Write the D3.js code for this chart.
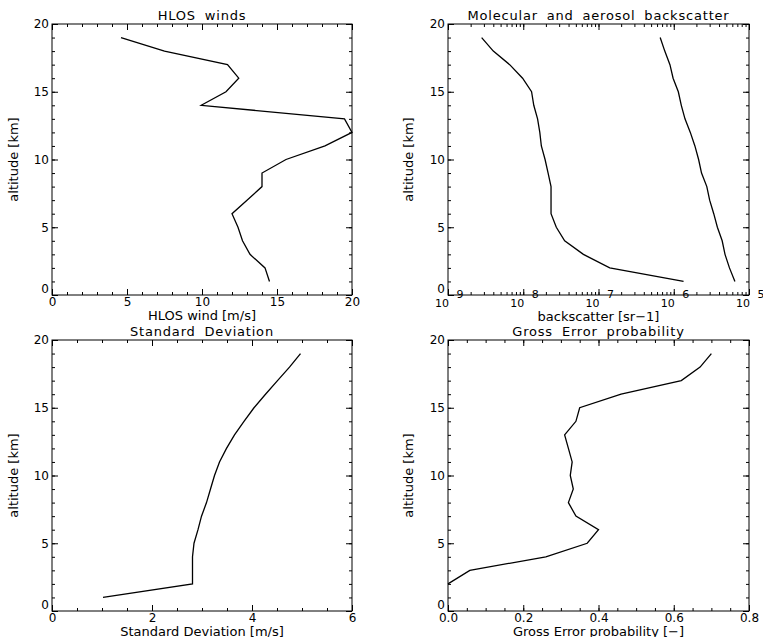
<!DOCTYPE html>
<html>
<head>
<meta charset="utf-8">
<script src="https://cdn.jsdelivr.net/npm/d3@7.9.0/dist/d3.min.js"></script>
<style>
  body { margin: 0; background: #fff; }
  svg text { font-family: "DejaVu Sans", sans-serif; fill: #000; }
  .tick line { stroke: #000; }
  .ptitle { letter-spacing: 0.8px; word-spacing: 4px; }
</style>
</head>
<body>
<svg id="chart" width="763" height="637"></svg>
<script>
// altitude levels (km), shared by all profiles
const altitude = [19, 18, 17, 16, 15, 14, 13, 12, 11, 10, 9, 8, 7, 6, 5, 4, 3, 2, 1];

// HLOS wind [m/s]
const hlosWind = [4.6, 7.5, 11.7, 12.45, 11.6, 9.95, 19.5, 20.0, 18.2, 15.6, 14.0, 14.0, 13.0, 12.0, 12.4, 12.7, 13.2, 14.2, 14.5];

// backscatter [sr-1], two curves
const backscatterA = [2.8e-9, 4.0e-9, 6.6e-9, 9.8e-9, 1.29e-8, 1.38e-8, 1.55e-8, 1.66e-8, 1.74e-8, 1.95e-8, 2.14e-8, 2.34e-8, 2.34e-8, 2.34e-8, 2.75e-8, 3.55e-8, 6.3e-8, 1.41e-7, 1.35e-6];
const backscatterB = [6.6e-7, 7.6e-7, 8.9e-7, 9.8e-7, 1.15e-6, 1.26e-6, 1.41e-6, 1.66e-6, 1.91e-6, 2.14e-6, 2.34e-6, 2.75e-6, 3.0e-6, 3.4e-6, 3.8e-6, 4.4e-6, 4.8e-6, 5.5e-6, 6.5e-6];

// standard deviation [m/s]
const stdDev = [4.97, 4.75, 4.51, 4.27, 4.04, 3.84, 3.65, 3.49, 3.35, 3.25, 3.17, 3.09, 2.99, 2.92, 2.84, 2.81, 2.81, 2.81, 1.02];

// gross error probability (no value at 1 km)
const grossAlt = [19, 18, 17, 16, 15, 14, 13, 12, 11, 10, 9, 8, 7, 6, 5, 4, 3, 2];
const grossErr = [0.70, 0.67, 0.62, 0.46, 0.35, 0.34, 0.31, 0.32, 0.33, 0.325, 0.333, 0.32, 0.34, 0.40, 0.37, 0.26, 0.058, 0.0];

// tick values
const altTicks = [0, 5, 10, 15, 20];
const windTicks = [0, 5, 10, 15, 20];
const stdTicks = [0, 2, 4, 6];
const gepTicks = [0, 0.2, 0.4, 0.6, 0.8];
const bsExponents = [9, 8, 7, 6, 5];

const svg = d3.select("#chart");

function panel(opt) {
  const g = svg.append("g").attr("transform", `translate(${opt.left},${opt.top})`);
  const w = opt.width, h = opt.height;
  const x = opt.x.range([0, w]);
  const y = d3.scaleLinear().domain([0, 20]).range([h, 0]);

  // frame
  g.append("rect").attr("width", w).attr("height", h)
    .attr("fill", "none").attr("stroke", "#000").attr("stroke-width", 1);

  // bottom, top, left, right -- ticks all point inward
  const axes = [
    [d3.axisBottom, `translate(0,${h})`, x],
    [d3.axisTop, null, x],
    [d3.axisLeft, null, y],
    [d3.axisRight, `translate(${w},0)`, y]
  ];
  axes.forEach(([fn, tr, sc], i) => {
    const majors = sc === y ? altTicks : opt.xTicks;
    const minors = sc === y ? d3.range(0, 21, 1) : opt.xMinor;
    const labelled = (i === 0 && !opt.logLabels) || i === 2;
    const ga = g.append("g").attr("transform", tr);
    ga.call(fn(sc).tickValues(minors).tickSize(-3).tickSizeOuter(0).tickFormat(""));
    const gm = g.append("g").attr("transform", tr);
    gm.call(fn(sc).tickValues(majors).tickSize(-6).tickSizeOuter(0).tickPadding(i === 0 ? 2 : 3)
      .tickFormat(labelled ? (sc === y ? d3.format("d") : opt.fmt) : ""));
    ga.select(".domain").remove();
    gm.select(".domain").remove();
    gm.selectAll("text").attr("font-size", 12);
    // the y "0" sits a little above its tick, clear of the x labels
    if (i === 2) gm.selectAll(".tick text").filter(d => d === 0).attr("dy", "-0.2em");
  });

  // log axis: "10" with the exponent raised to the axis line
  if (opt.logLabels) {
    const lg = g.append("g").attr("transform", `translate(0,${h})`);
    opt.xTicks.forEach((v, k) => {
      lg.append("text").attr("x", x(v) - 6).attr("y", 11.5).attr("text-anchor", "middle")
        .attr("font-size", 11).text("10");
      lg.append("text").attr("x", x(v) + 12).attr("y", 3).attr("text-anchor", "middle")
        .attr("font-size", 11).text(bsExponents[k]);
    });
  }

  // titles
  g.append("text").attr("class", "ptitle").attr("x", w / 2).attr("y", -4).attr("text-anchor", "middle")
    .attr("font-size", 13).text(opt.title);
  g.append("text").attr("x", w / 2).attr("y", h + (opt.logLabels ? 26 : 24.5)).attr("text-anchor", "middle")
    .attr("font-size", 13).text(opt.xLabel);
  g.append("text").attr("transform", `translate(${opt.yLabelX},${h / 2}) rotate(-90)`)
    .attr("text-anchor", "middle").attr("font-size", 13).text("altitude [km]");

  const line = d3.line().x(d => x(d[0])).y(d => y(d[1]));
  opt.series.forEach(s => {
    g.append("path").datum(d3.zip(s.values, s.alt))
      .attr("d", line).attr("fill", "none").attr("stroke", "#000").attr("stroke-width", 1.3);
  });
}

panel({
  left: 52, top: 24, width: 300, height: 271,
  x: d3.scaleLinear().domain([0, 20]),
  xTicks: windTicks, xMinor: d3.range(0, 21, 1), fmt: d3.format("d"),
  title: "HLOS winds", xLabel: "HLOS wind [m/s]", yLabelX: -34,
  series: [{ values: hlosWind, alt: altitude }]
});

const logMinor = [];
for (let e = -9; e < -5; e++) for (let m = 1; m < 10; m++) logMinor.push(m * Math.pow(10, e));
logMinor.push(1e-5);

panel({
  left: 448, top: 24, width: 301, height: 271,
  x: d3.scaleLog().domain([1e-9, 1e-5]),
  xTicks: [1e-9, 1e-8, 1e-7, 1e-6, 1e-5], xMinor: logMinor, logLabels: true,
  title: "Molecular and aerosol backscatter", xLabel: "backscatter [sr\u22121]", yLabelX: -35,
  series: [{ values: backscatterA, alt: altitude }, { values: backscatterB, alt: altitude }]
});

panel({
  left: 52, top: 340, width: 300, height: 271,
  x: d3.scaleLinear().domain([0, 6]),
  xTicks: stdTicks, xMinor: d3.range(0, 6.01, 0.5), fmt: d3.format("d"),
  title: "Standard Deviation", xLabel: "Standard Deviation [m/s]", yLabelX: -34,
  series: [{ values: stdDev, alt: altitude }]
});

panel({
  left: 448, top: 340, width: 301, height: 271,
  x: d3.scaleLinear().domain([0, 0.8]),
  xTicks: gepTicks, xMinor: d3.range(0, 0.801, 0.05), fmt: d3.format(".1f"),
  title: "Gross Error probability", xLabel: "Gross Error probability [\u2212]", yLabelX: -35,
  series: [{ values: grossErr, alt: grossAlt }]
});
</script>
</body>
</html>
